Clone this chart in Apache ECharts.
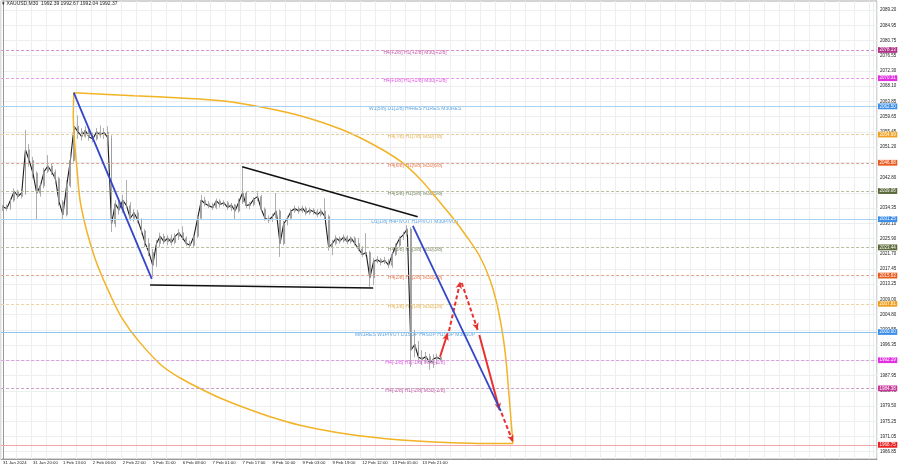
<!DOCTYPE html>
<html>
<head>
<meta charset="utf-8">
<script src="https://cdn.jsdelivr.net/npm/echarts@6/dist/echarts.min.js"></script>
<style>html,body{margin:0;padding:0;background:#fff}#c{width:900px;height:468px}</style>
</head>
<body>
<div id="c"></div>
<script>
// ---------------- DATA ----------------
const symbolName = "XAUUSD,M30";
const lastBar = [1992.39, 1992.67, 1992.04, 1992.37];

const dateLabels = ["31 Jan 2024","31 Jan 20:00","1 Feb 13:00","2 Feb 06:00","2 Feb 22:00","5 Feb 15:00","6 Feb 08:00","7 Feb 01:00","7 Feb 17:00","8 Feb 10:00","9 Feb 03:00","9 Feb 19:00","12 Feb 12:00","13 Feb 05:00","13 Feb 21:00"];

const yTicks = [2089.20,2084.95,2080.75,2076.55,2072.30,2068.10,2063.85,2059.65,2055.45,2051.20,2047.00,2042.80,2038.55,2034.35,2030.10,2025.90,2021.70,2017.45,2013.25,2009.00,2004.80,2000.55,1996.35,1992.10,1987.95,1983.70,1979.50,1975.25,1971.05,1966.85];

// [open, close, low, high] per 2-hour slot
const candles = [
[2034.0,2034.6,2033.5,2035.2],[2034.6,2034.2,2033.6,2035.3],[2034.2,2036.5,2033.8,2037.0],[2036.5,2039.0,2036.0,2039.8],
[2039.0,2037.6,2036.9,2039.4],[2037.6,2038.5,2037.0,2039.0],[2038.5,2050.5,2038.0,2056.0],[2050.5,2047.5,2045.8,2052.0],
[2047.5,2044.0,2042.5,2048.5],[2044.0,2038.5,2031.0,2044.5],[2038.5,2040.5,2037.5,2041.5],[2040.5,2044.5,2039.8,2045.5],
[2044.5,2046.0,2044.0,2049.0],[2046.0,2044.3,2043.5,2046.8],[2044.3,2042.5,2041.5,2045.0],[2042.5,2036.0,2035.0,2043.0],
[2036.0,2032.5,2031.3,2036.5],[2032.5,2040.5,2032.0,2042.0],[2040.5,2047.5,2040.0,2049.0],[2047.5,2057.0,2047.0,2066.2],
[2057.0,2055.5,2053.5,2060.0],[2055.5,2054.2,2053.0,2056.5],[2054.2,2055.8,2053.8,2057.0],[2055.8,2054.0,2053.0,2056.4],
[2054.0,2053.5,2052.5,2055.2],[2053.5,2055.4,2053.0,2056.5],[2055.4,2054.6,2053.8,2057.2],[2054.6,2055.3,2053.5,2056.5],
[2055.3,2053.8,2051.5,2057.0],[2053.8,2030.0,2027.7,2054.5],[2030.0,2035.5,2029.0,2036.5],[2035.5,2033.8,2032.5,2036.8],
[2033.8,2036.5,2033.0,2038.0],[2036.5,2035.0,2034.5,2042.1],[2035.0,2031.5,2030.8,2036.0],[2031.5,2033.0,2030.5,2034.0],
[2033.0,2031.0,2030.2,2033.8],[2031.0,2028.0,2027.0,2031.5],[2028.0,2024.5,2023.5,2028.5],[2024.5,2022.0,2021.0,2026.0],
[2022.0,2018.5,2015.2,2023.0],[2018.5,2024.5,2018.0,2025.5],[2024.5,2026.5,2023.5,2027.5],[2026.5,2025.0,2024.3,2027.2],
[2025.0,2026.0,2024.0,2026.8],[2026.0,2024.8,2024.0,2027.0],[2024.8,2026.5,2024.3,2027.3],[2026.5,2027.5,2025.5,2028.5],
[2027.5,2026.0,2025.5,2029.3],[2026.0,2024.5,2023.8,2026.5],[2024.5,2024.0,2023.2,2025.3],[2024.0,2026.5,2023.5,2027.0],
[2026.5,2031.5,2026.0,2032.3],[2031.5,2036.5,2031.0,2038.0],[2036.5,2035.5,2034.8,2037.5],[2035.5,2035.0,2034.3,2036.3],
[2035.0,2034.5,2033.8,2035.8],[2034.5,2036.3,2034.0,2037.0],[2036.3,2035.3,2034.5,2036.8],[2035.3,2035.8,2034.8,2036.5],
[2035.8,2034.5,2033.8,2036.3],[2034.5,2035.2,2033.5,2035.8],[2035.2,2033.5,2031.0,2035.5],[2033.5,2036.0,2033.0,2037.0],
[2036.0,2038.5,2035.5,2045.7],[2038.5,2035.0,2034.3,2039.0],[2035.0,2035.3,2034.0,2036.0],[2035.3,2036.8,2034.8,2037.3],
[2036.8,2037.5,2036.3,2038.6],[2037.5,2034.0,2033.3,2038.0],[2034.0,2031.5,2030.8,2034.5],[2031.5,2031.0,2030.2,2032.3],
[2031.0,2032.0,2030.5,2032.8],[2032.0,2033.5,2031.5,2038.5],[2033.5,2024.5,2020.8,2034.0],[2024.5,2030.0,2024.0,2030.8],
[2030.0,2031.5,2029.5,2032.2],[2031.5,2033.5,2031.0,2034.0],[2033.5,2034.2,2033.0,2035.0],[2034.2,2033.5,2032.8,2034.8],
[2033.5,2034.3,2033.0,2035.0],[2034.3,2033.0,2032.3,2034.8],[2033.0,2033.8,2032.5,2034.5],[2033.8,2033.3,2032.5,2034.3],
[2033.3,2032.5,2031.8,2034.0],[2032.5,2033.5,2032.0,2034.2],[2033.5,2032.0,2031.5,2037.1],[2032.0,2023.5,2022.5,2032.5],
[2023.5,2024.5,2021.3,2025.5],[2024.5,2026.0,2024.0,2026.8],[2026.0,2025.2,2024.5,2026.5],[2025.2,2026.3,2024.8,2027.0],
[2026.3,2025.0,2024.3,2026.8],[2025.0,2026.0,2024.5,2026.5],[2026.0,2024.5,2024.0,2026.5],[2024.5,2023.0,2022.5,2026.0],
[2023.0,2021.5,2020.8,2023.8],[2021.5,2022.0,2021.0,2027.4],[2022.0,2015.0,2012.5,2022.5],[2015.0,2019.5,2013.0,2020.5],
[2019.5,2020.0,2019.0,2021.0],[2020.0,2019.3,2018.5,2020.5],[2019.3,2019.8,2018.8,2020.8],[2019.8,2018.5,2017.7,2020.2],
[2018.5,2021.5,2017.8,2022.0],[2021.5,2024.0,2021.0,2024.5],[2024.0,2026.0,2023.5,2026.5],[2026.0,2027.0,2025.5,2027.8],
[2027.0,2028.5,2026.5,2029.6],[2028.5,1995.0,1990.3,2029.0],[1995.0,1996.5,1993.0,2000.6],[1996.5,1993.0,1991.5,1997.5],
[1993.0,1992.5,1991.0,1995.0],[1992.5,1993.2,1991.5,1994.5],[1993.2,1991.5,1989.5,1994.0],[1991.5,1992.5,1990.0,1993.8],
[1992.5,1993.0,1991.0,1994.0],[1993.0,1992.37,1992.04,1993.5]
];

const levelPrices = [2078.13,2070.31,2062.50,2054.69,2046.88,2039.06,2031.25,2023.44,2015.63,2007.81,2000.00,1992.19,1984.38,1968.75];
const levelTexts = ["H4[+2/8] H1[+2/8] M30[+2/8]","H4[+1/8] H1[+1/8] M30[+1/8]","W1[5/8] D1[2/8] H4RES H1RES M30RES","H4[7/8] H1[7/8] M30[7/8]","H4[6/8] H1[6/8] M30[6/8]","H4[5/8] H1[5/8] M30[5/8]","D1[1/8] H4PIVOT H1PIVOT M30PIVOT","H4[3/8] H1[3/8] M30[3/8]","H4[2/8] H1[2/8] M30[2/8]","H4[1/8] H1[1/8] M30[1/8]","MN1RES W1PIVOT D1SUP H4SUP H1SUP M30SUP","H4[-1/8] H1[-1/8] M30[-1/8]","H4[-2/8] H1[-2/8] M30[-2/8]",""];

// annotation anchors: [slot index, price]
const blueLines = [[[18.9,2066.3],[39.75,2014.7]],[[109.5,2029.4],[133.0,1978.1]]];
const blackLines = [[[63.9,2045.8],[110.8,2031.9]],[[39.3,2013.0],[98.9,2012.2]]];
const redArrows = [[[116.75,1993.16],[118.8,1999.66]],[[119.15,2000.28],[122.17,2013.94]],[[122.55,2013.58],[126.82,2000.56]],[[127.25,1999.17],[132.65,1978.4]],[[133.18,1977.57],[136.25,1969.53]]];
const arcUpper = [[18.92,2066.29],[35.02,2065.46],[47.58,2064.82],[58.26,2064.07],[68.94,2062.33],[79.63,2059.84],[90.31,2056.15],[99.12,2051.80],[106.34,2047.18],[111.68,2042.11],[116.22,2036.57],[120.22,2031.58],[123.96,2026.32],[127.17,2021.33],[129.84,2015.24],[131.71,2008.87],[133.31,2000.56],[134.38,1992.25],[135.18,1982.55],[135.72,1975.63],[136.25,1969.10]];
const arcLower = [[18.92,2066.29],[18.78,2060.11],[19.08,2053.19],[19.67,2046.26],[20.87,2034.71],[24.42,2020.86],[28.88,2009.78],[32.09,2003.33],[36.01,1997.79],[42.23,1990.86],[47.58,1987.12],[52.92,1984.21],[58.26,1981.58],[64.40,1979.09],[71.61,1976.46],[79.63,1974.10],[88.44,1972.30],[97.52,1970.97],[106.34,1970.09],[115.15,1969.53],[125.03,1969.20],[136.25,1969.10]];

// ---------------- STYLES ----------------
const SLOTS = 234;
const FONT = "Liberation Sans, Arial, sans-serif";
const levelDashed = [true,true,false,true,true,true,false,true,true,true,false,true,true,false];
const levelLineColors = ['#d98fc8','#e79be6','#a9d2f2','#e8cd9c','#dfa892','#b7bb9f','#a9d2f2','#b7bb9f','#dfa892','#ecd29e','#8cc4ee','#dc9fe2','#cba0c4','#f2a8a8'];
const levelTextColors = ['#b8308f','#d828d8','#3a8fd8','#e0a030','#e05a28','#5f6f3f','#3a8fd8','#5f6f3f','#e05a28','#e0a030','#3a8fd8','#d828d8','#b8308f','#e82020'];
const levelTagColors = ['#b03088','#e030e0','#3c8ee8','#f0a020','#e85a1e','#5a6a3a','#3c8ee8','#5a6a3a','#e85a1e','#f0a020','#3c8ee8','#e030e0','#c83898','#e82020'];
const redDashed = [false,true,true,false,true];
const labelSlot = 110.1;

const categories = Array.from({length: SLOTS}, (_, i) => String(i));

const chart = echarts.init(document.getElementById('c'), null, {renderer: 'canvas'});

const levelMarks = levelPrices.map((p, i) => ({
  yAxis: p,
  lineStyle: {color: levelLineColors[i], width: 1, type: levelDashed[i] ? [3, 2] : 'solid'},
  label: {
    show: true, position: 'end', distance: 1,
    formatter: p.toFixed(2),
    backgroundColor: levelTagColors[i], color: '#fff',
    fontSize: 4.5, fontFamily: FONT, padding: [0.6, 1.5, 0.2, 1.5], lineHeight: 5
  }
}));

const levelLabelData = levelPrices.map((p, i) => ({
  value: [labelSlot, p],
  label: {color: levelTextColors[i], formatter: levelTexts[i]}
}));

function segSeries(segs, color, width, z) {
  return segs.map(s => ({
    type: 'line', xAxisIndex: 1, yAxisIndex: 0, data: s, symbol: 'none', silent: true, z: z,
    lineStyle: {color: color, width: width}
  }));
}

const option = {
  animation: false,
  backgroundColor: '#ffffff',
  title: {
    text: '\u25BE ' + symbolName + '  ' + lastBar.map(v => v.toFixed(2)).join(' '),
    left: 2, top: 1, padding: 0,
    textStyle: {fontSize: 5, fontWeight: 'normal', color: '#222', fontFamily: FONT}
  },
  grid: {left: 1, right: 23, top: 1, bottom: 9, show: true, borderColor: '#a8a8a8', borderWidth: 1},
  xAxis: [
    {
      type: 'category', data: categories, boundaryGap: true,
      axisLine: {show: true, lineStyle: {color: '#999', width: 1}},
      axisTick: {show: false},
      axisLabel: {
        show: true, interval: 0, margin: 2, align: 'left',
        fontSize: 4.3, color: '#222', fontFamily: FONT,
        formatter: (v, idx) => (idx % 8 === 0 && dateLabels[idx / 8]) ? dateLabels[idx / 8] : ''
      },
      splitLine: {show: true, interval: 3, lineStyle: {color: '#eceeef', width: 1}}
    },
    {type: 'value', min: -0.5, max: SLOTS - 0.5, show: false}
  ],
  yAxis: {
    type: 'value', position: 'right', min: 1964.82, max: 2091.69, scale: true,
    axisLine: {show: true, lineStyle: {color: '#999'}},
    axisTick: {show: false, customValues: yTicks},
    axisLabel: {
      show: true, customValues: yTicks, margin: 3, fontSize: 4.5, color: '#222', fontFamily: FONT,
      formatter: v => v.toFixed(2)
    },
    splitLine: {show: true, lineStyle: {color: '#eceeef', width: 1}}
  },
  series: [
    {
      name: 'levels', type: 'scatter', xAxisIndex: 1, yAxisIndex: 0, symbolSize: 0, z: 1, silent: true,
      data: levelLabelData,
      label: {show: true, position: 'inside', offset: [0, 2.4], fontSize: 5, fontFamily: FONT},
      markLine: {silent: true, symbol: 'none', animation: false, data: levelMarks}
    },
    {
      name: 'candles', type: 'candlestick', xAxisIndex: 0, yAxisIndex: 0, data: candles, z: 3,
      barWidth: 1.4,
      itemStyle: {color: '#8a8a8a', color0: '#8a8a8a', borderColor: '#9a9a9a', borderColor0: '#9a9a9a', borderWidth: 0.8}
    },
    {
      name: 'close', type: 'line', xAxisIndex: 0, yAxisIndex: 0, data: candles.map(c => c[1]), z: 3,
      symbol: 'none', lineStyle: {color: '#1c1c1c', width: 1.1}
    },
    {
      name: 'arcU', type: 'line', xAxisIndex: 1, yAxisIndex: 0, data: arcUpper, smooth: 0.3, symbol: 'none', z: 4, silent: true,
      lineStyle: {color: '#f2b324', width: 1.5}
    },
    {
      name: 'arcL', type: 'line', xAxisIndex: 1, yAxisIndex: 0, data: arcLower, smooth: 0.35, symbol: 'none', z: 4, silent: true,
      lineStyle: {color: '#f2b324', width: 1.5}
    },
    ...segSeries(blueLines, '#3446c8', 1.8, 5),
    ...segSeries(blackLines, '#111111', 1.5, 5),
    {
      name: 'arrows', type: 'line', xAxisIndex: 1, yAxisIndex: 0, data: [redArrows[0][0]], symbol: 'none', z: 6, silent: true,
      lineStyle: {width: 0},
      markLine: {
        silent: true, animation: false, symbol: ['none', 'arrow'], symbolSize: [5, 7],
        label: {show: false},
        data: redArrows.map((s, i) => [
          {coord: s[0], lineStyle: {color: '#e8312f', width: 2, type: redDashed[i] ? [4, 2.5] : 'solid'}},
          {coord: s[1]}
        ])
      }
    }
  ]
};
chart.setOption(option);
</script>
</body>
</html>
